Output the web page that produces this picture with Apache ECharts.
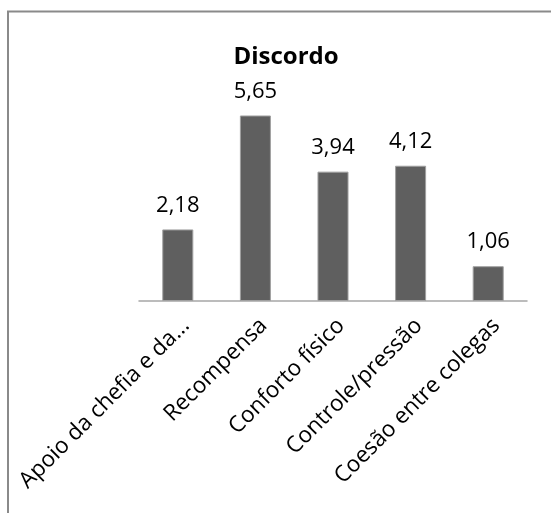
<!DOCTYPE html>
<html>
<head>
<meta charset="utf-8">
<script src="https://cdn.jsdelivr.net/npm/echarts@6/dist/echarts.min.js"></script>
<style>
  html, body { margin: 0; padding: 0; background: #ffffff; }
  #chart { width: 551px; height: 513px; }
</style>
</head>
<body>
<div id="chart"></div>
<script>
// Categories and mean scores for the "Discordo" group
const categories = [
  'Apoio da chefia e da...',
  'Recompensa',
  'Conforto físico',
  'Controle/pressão',
  'Coesão entre colegas'
];
const values = [2.18, 5.65, 3.94, 4.12, 1.06];
const chartTitle = 'Discordo';

const FONT = '"Open Sans", sans-serif';
const chart = echarts.init(document.getElementById('chart'), null, { renderer: 'canvas' });

chart.setOption({
  animation: false,
  backgroundColor: '#ffffff',
  title: {
    text: chartTitle,
    left: 281,
    top: 40,
    textAlign: 'center',
    textStyle: { fontFamily: FONT, fontSize: 24, fontWeight: 'bold', color: '#000000' }
  },
  // outer frame of the chart area
  graphic: [{
    type: 'rect',
    shape: { x: 8, y: 11.5, width: 600, height: 600 },
    style: { fill: 'none', stroke: '#8a8a8a', lineWidth: 2 },
    silent: true,
    z: -1
  }],
  grid: { left: 139, right: 24, top: 104, bottom: 212, containLabel: false },
  xAxis: {
    type: 'category',
    data: categories,
    axisLine: { show: true, lineStyle: { color: '#a6a6a6', width: 1.5 } },
    axisTick: { show: false },
    axisLabel: {
      rotate: 45,
      interval: 0,
      margin: 13,
      align: 'right',
      verticalAlign: 'top',
      fontFamily: FONT,
      fontSize: 22.5,
      color: '#000000'
    }
  },
  yAxis: {
    type: 'value',
    min: 0,
    max: 6,
    show: false,
    splitLine: { show: false }
  },
  series: [{
    type: 'bar',
    data: values,
    barWidth: '40%',
    itemStyle: { color: '#5f5f5f', borderColor: '#a0a0a0', borderWidth: 1 },
    label: {
      show: true,
      position: 'top',
      distance: 13,
      fontFamily: FONT,
      fontSize: 22,
      color: '#000000',
      formatter: p => p.value.toFixed(2).replace('.', ',')
    }
  }]
});
</script>
</body>
</html>
